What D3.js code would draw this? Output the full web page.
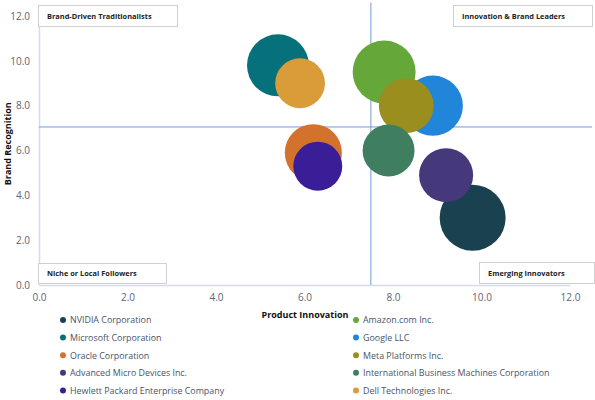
<!DOCTYPE html>
<html>
<head>
<meta charset="utf-8">
<script src="https://cdn.jsdelivr.net/npm/d3@7"></script>
<style>
  body { margin: 0; background: #fff; }
  svg { display: block; font-family: "Open Sans", sans-serif; }
</style>
</head>
<body>
<svg id="bubble-chart" width="595" height="400"></svg>
<script>
// companies in series order (legend reads row by row)
const companies = ['NVIDIA Corporation', 'Amazon.com Inc.', 'Microsoft Corporation', 'Google LLC',
    'Oracle Corporation', 'Meta Platforms Inc.', 'Advanced Micro Devices Inc.',
    'International Business Machines Corporation', 'Hewlett Packard Enterprise Company', 'Dell Technologies Inc.'];
const innovation = [9.8, 7.8, 5.4, 8.9, 6.2, 8.3, 9.2, 7.9, 6.3, 5.9];
const recognition = [3.0, 9.5, 9.8, 8.0, 5.9, 8.0, 4.9, 6.0, 5.3, 9.0];
const bubbleSize = [10.0, 9.1, 8.8, 8.3, 7.5, 6.9, 6.7, 6.2, 5.5, 5.7];
const colors = ['#1a4150', '#66a73a', '#07717b', '#2185d9', '#d3722d', '#9a8e1f', '#45387b', '#3f7f5f', '#3a1e98', '#d99c39'];
const tickValues = [0, 2, 4, 6, 8, 10, 12];
const quadrantX = 7.5;
const quadrantY = 7.05;
const quadrantLabels = ['Brand-Driven Traditionalists', 'Innovation & Brand Leaders', 'Niche or Local Followers', 'Emerging Innovators'];

const svg = d3.select('#bubble-chart');

const x = d3.scaleLinear().domain([0, 12]).range([39, 570]);
const y = d3.scaleLinear().domain([0, 12]).range([285, 16]);
const r = d3.scaleSqrt().domain([0, 10]).range([0, 33]);

//Axes
const xAxis = svg.append('g')
    .attr('transform', 'translate(0,' + y(0) + ')')
    .call(d3.axisBottom(x).tickValues(tickValues).tickFormat(d3.format('.1f')).tickSize(0).tickPadding(9));
const yAxis = svg.append('g')
    .attr('transform', 'translate(' + x(0) + ',0)')
    .call(d3.axisLeft(y).tickValues(tickValues).tickFormat(d3.format('.1f')).tickSize(0).tickPadding(9));
[xAxis, yAxis].forEach(function(a) {
    a.select('.domain').attr('stroke', '#d6dbe5').attr('stroke-width', 1.5);
    a.selectAll('text').attr('fill', '#5b6478').attr('font-size', 10).attr('font-family', 'Open Sans');
});

//Axis titles
svg.append('text')
    .attr('x', 305).attr('y', 318)
    .attr('text-anchor', 'middle')
    .attr('font-size', 9).attr('font-weight', 'bold').attr('fill', '#111')
    .text('Product Innovation');
svg.append('text')
    .attr('transform', 'translate(11,' + y(6.3) + ') rotate(-90)')
    .attr('text-anchor', 'middle')
    .attr('font-size', 9).attr('font-weight', 'bold').attr('fill', '#111')
    .text('Brand Recognition');

//Quadrant dividers
svg.append('line')
    .attr('x1', x(0)).attr('x2', x(12.5))
    .attr('y1', y(quadrantY)).attr('y2', y(quadrantY))
    .attr('stroke', '#7596d6').attr('stroke-width', 1);
svg.append('line')
    .attr('x1', x(quadrantX)).attr('x2', x(quadrantX))
    .attr('y1', y(0)).attr('y2', y(12.6))
    .attr('stroke', '#7596d6').attr('stroke-width', 1);

//Bubbles
svg.selectAll('circle.bubble')
    .data(companies)
    .enter().append('circle')
    .attr('class', 'bubble')
    .attr('cx', function(d, i) { return x(innovation[i]); })
    .attr('cy', function(d, i) { return y(recognition[i]); })
    .attr('r', function(d, i) { return r(bubbleSize[i]); })
    .attr('fill', function(d, i) { return colors[i]; });

//Quadrant label boxes
const boxes = [
    {x: 38, y: 5, w: 139, h: 21},
    {x: 453, y: 5, w: 139, h: 21},
    {x: 38, y: 263, w: 128, h: 20},
    {x: 479, y: 262, w: 115, h: 21}
];
boxes.forEach(function(b, i) {
    svg.append('rect')
        .attr('x', b.x + 0.5).attr('y', b.y + 0.5)
        .attr('width', b.w).attr('height', b.h)
        .attr('fill', '#fff').attr('stroke', '#d0d0d0');
    svg.append('text')
        .attr('x', b.x + 9).attr('y', b.y + b.h / 2 + 3)
        .attr('font-size', 7.4).attr('font-weight', 'bold').attr('fill', '#222')
        .text(quadrantLabels[i]);
});

//Legend, two columns
const legend = svg.selectAll('g.legend')
    .data(companies)
    .enter().append('g')
    .attr('class', 'legend')
    .attr('transform', function(d, i) {
        return 'translate(' + (i % 2 == 0 ? 63 : 356) + ',' + (320 + Math.floor(i / 2) * 17.6) + ')';
    });
legend.append('circle')
    .attr('r', 3)
    .attr('fill', function(d, i) { return colors[i]; });
legend.append('text')
    .attr('x', 7).attr('y', 3.3)
    .attr('font-size', 8.9).attr('fill', '#4a5468')
    .text(function(d) { return d; });
</script>
</body>
</html>
